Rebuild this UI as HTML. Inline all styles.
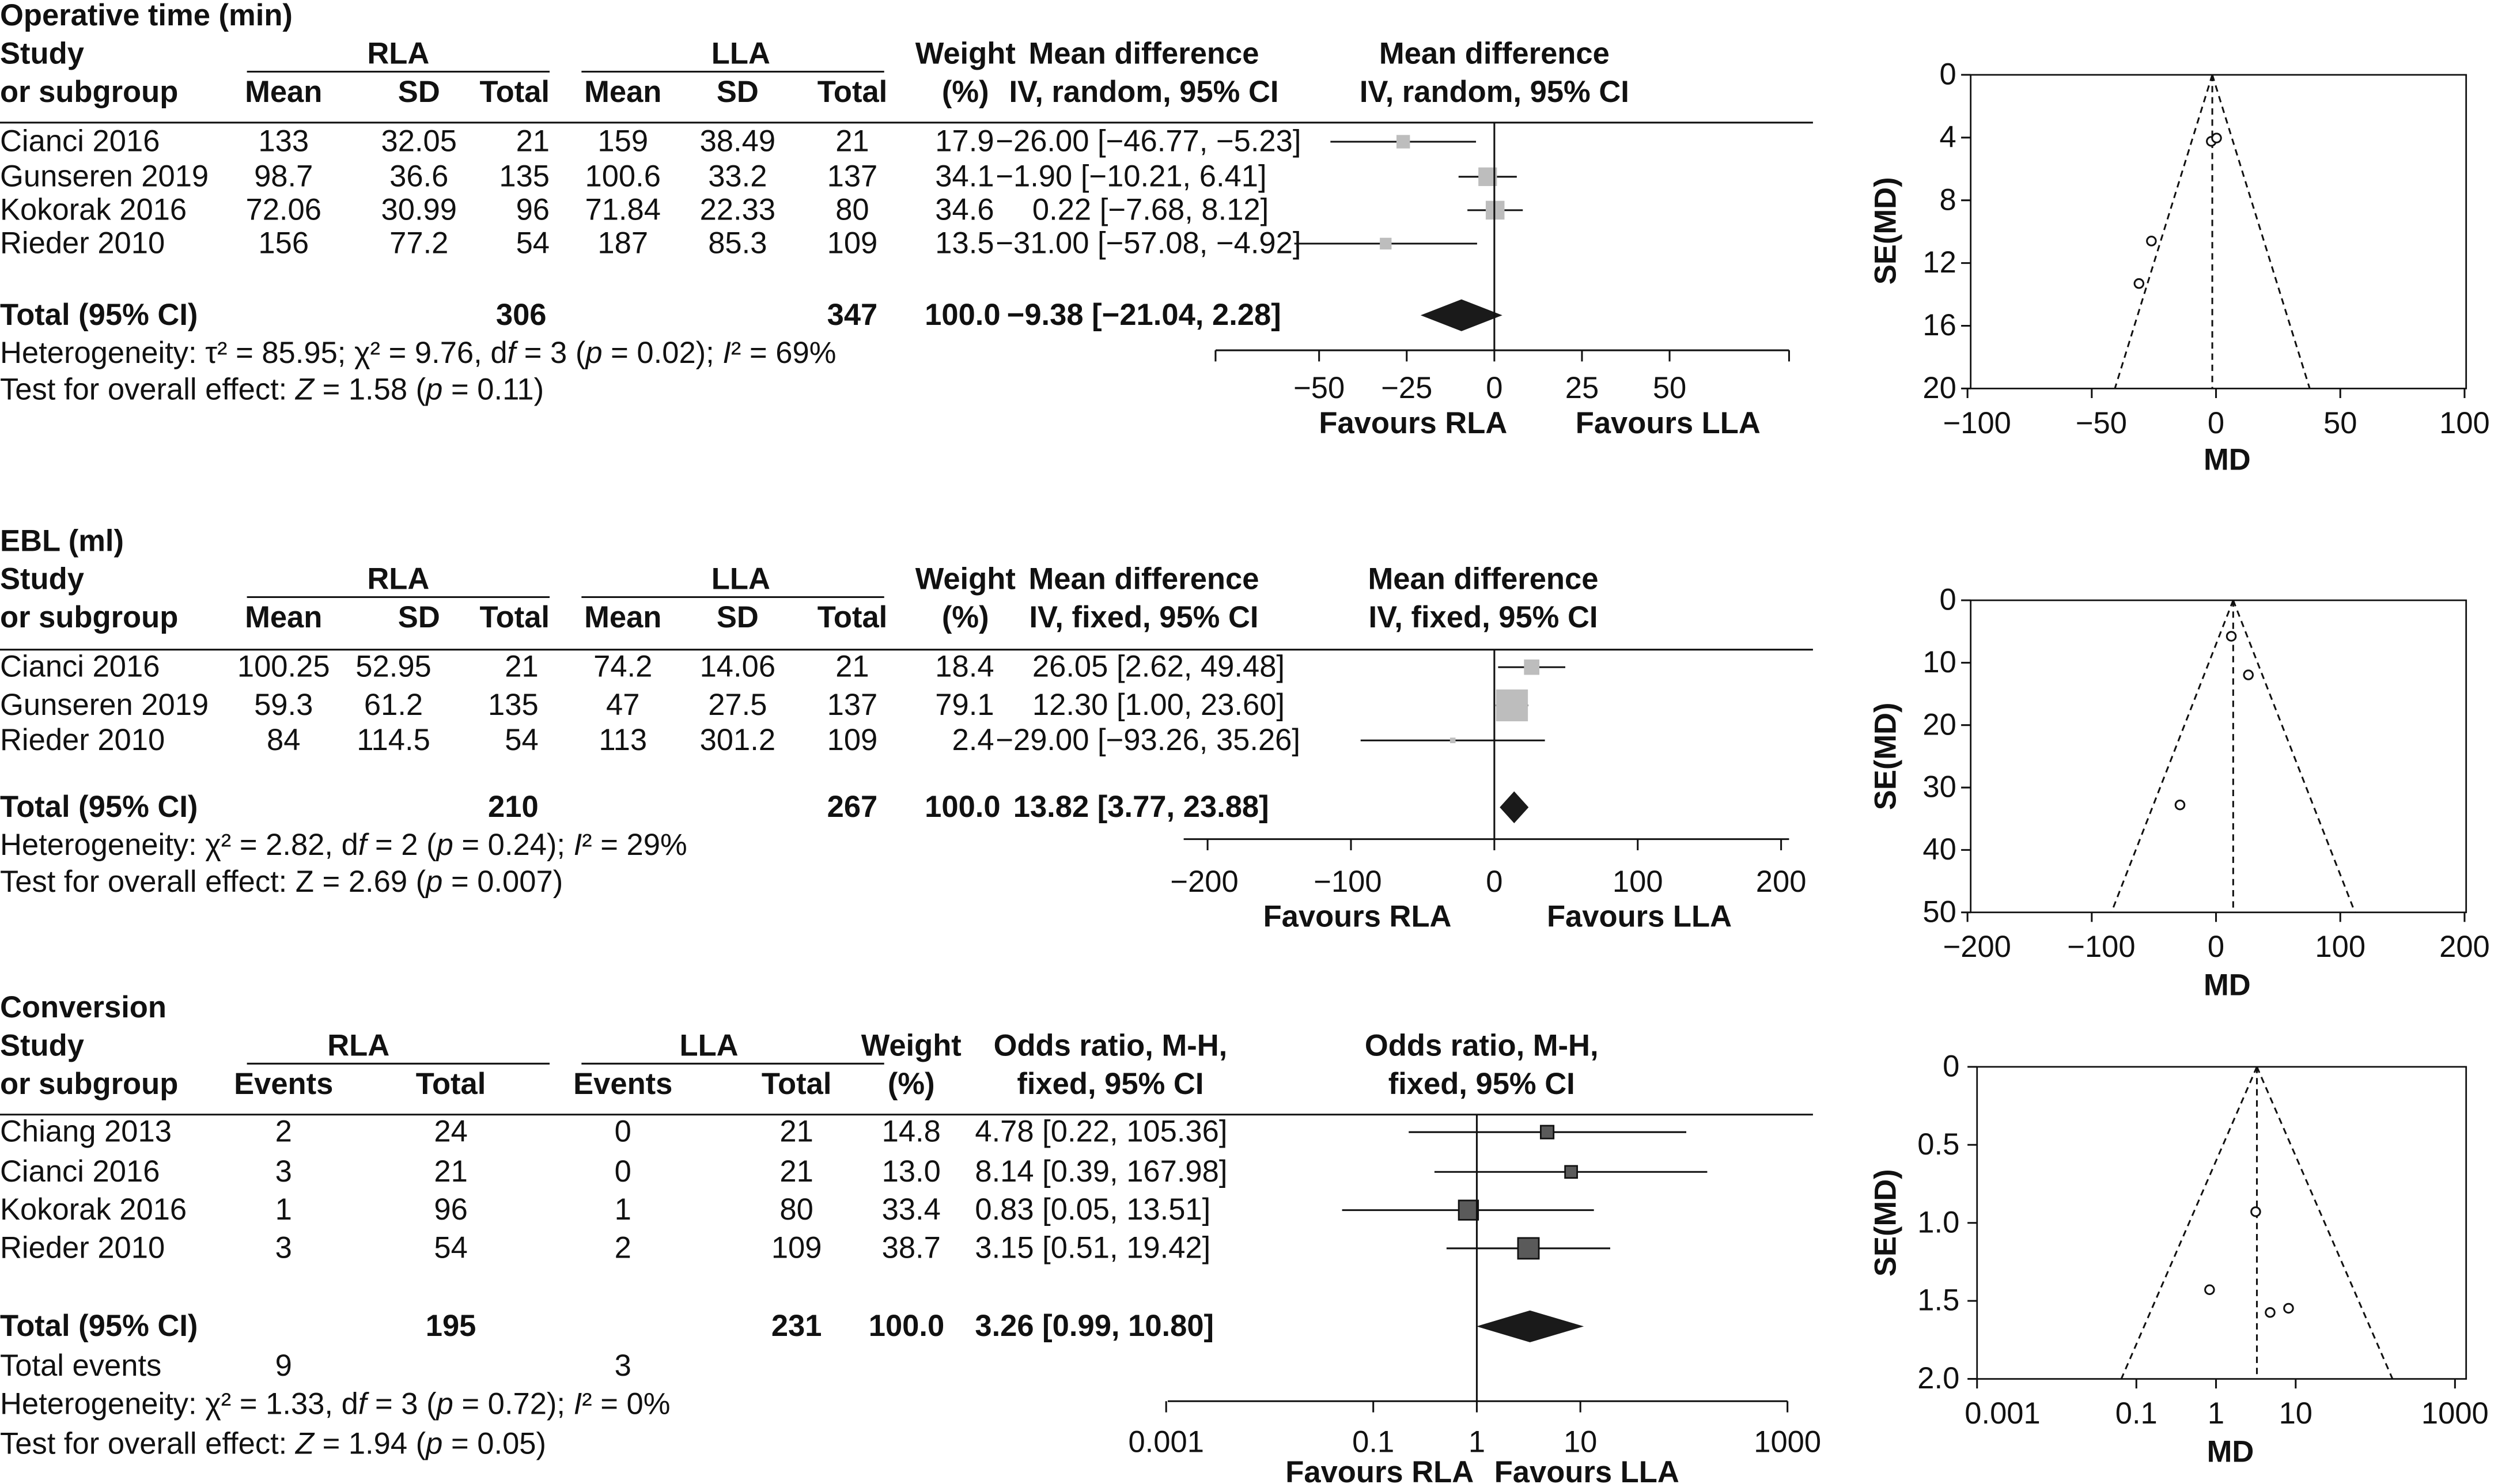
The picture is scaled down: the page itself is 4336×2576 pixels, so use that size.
<!DOCTYPE html>
<html><head><meta charset="utf-8"><style>
html,body{margin:0;padding:0;background:#fff;}
svg{display:block;}
text{font-family:"Liberation Sans",sans-serif;font-size:19px;fill:#111;}
.b{font-weight:bold;}
</style></head><body>
<svg id="chart" xmlns="http://www.w3.org/2000/svg" width="4336" height="2576" viewBox="0 0 1568 932" preserveAspectRatio="none"></svg>
<script>
// ---------- Data: Operative time ----------
const studies1 = ["Cianci 2016","Gunseren 2019","Kokorak 2016","Rieder 2010"];
const rlaMean1 = ["133","98.7","72.06","156"];
const rlaSD1 = ["32.05","36.6","30.99","77.2"];
const rlaN1 = ["21","135","96","54"];
const llaMean1 = ["159","100.6","71.84","187"];
const llaSD1 = ["38.49","33.2","22.33","85.3"];
const llaN1 = ["21","137","80","109"];
const weight1 = [17.9,34.1,34.6,13.5];
const md1 = [-26.00,-1.90,0.22,-31.00];
const lo1 = [-46.77,-10.21,-7.68,-57.08];
const hi1 = [-5.23,6.41,8.12,-4.92];
const pooled1 = [-9.38,-21.04,2.28];
const funnelCenter1 = -1.5;
const xTicks1 = [-50,-25,0,25,50];
const fxTicks1 = [-100,-50,0,50,100];
const fyTicks1 = [0,4,8,12,16,20];
// ---------- Data: EBL ----------
const studies2 = ["Cianci 2016","Gunseren 2019","Rieder 2010"];
const rlaMean2 = ["100.25","59.3","84"];
const rlaSD2 = ["52.95","61.2","114.5"];
const rlaN2 = ["21","135","54"];
const llaMean2 = ["74.2","47","113"];
const llaSD2 = ["14.06","27.5","301.2"];
const llaN2 = ["21","137","109"];
const weight2 = [18.4,79.1,2.4];
const md2 = [26.05,12.30,-29.00];
const lo2 = [2.62,1.00,-93.26];
const hi2 = [49.48,23.60,35.26];
const pooled2 = [13.82,3.77,23.88];
const xTicks2 = [-200,-100,0,100,200];
const fxTicks2 = [-200,-100,0,100,200];
const fyTicks2 = [0,10,20,30,40,50];
// ---------- Data: Conversion ----------
const studies3 = ["Chiang 2013","Cianci 2016","Kokorak 2016","Rieder 2010"];
const rlaEv3 = ["2","3","1","3"];
const rlaN3 = ["24","21","96","54"];
const llaEv3 = ["0","0","1","2"];
const llaN3 = ["21","21","80","109"];
const weight3 = [14.8,13.0,33.4,38.7];
const or3 = [4.78,8.14,0.83,3.15];
const lo3 = [0.22,0.39,0.05,0.51];
const hi3 = [105.36,167.98,13.51,19.42];
const pooled3 = [3.26,0.99,10.80];
const xTicks3 = [0.001,0.1,1,10,1000];
const xTickLabels3 = ["0.001","0.1","1","10","1000"];
const fyTicks3 = [0,0.5,1.0,1.5,2.0];
const fyTickLabels3 = ["0","0.5","1.0","1.5","2.0"];

const NS="http://www.w3.org/2000/svg";
const svg=document.getElementById('chart');
function el(tag,name,parent){
  const e=document.createElementNS(NS,tag);
  
  
  (parent||svg).appendChild(e);
  return e;
}
function txt(x,y,s,anchor,bold,name){
  const e=el('text',name);
  e.setAttribute('x',x);e.setAttribute('y',y);
  e.setAttribute('text-anchor',anchor||'start');
  if(bold)e.setAttribute('class','b');
  e.innerHTML=s;
  return e;
}
function line(x1,y1,x2,y2,name,dash,w){
  const e=el('line',name);
  e.setAttribute('x1',x1);e.setAttribute('y1',y1);e.setAttribute('x2',x2);e.setAttribute('y2',y2);
  e.setAttribute('stroke','#111');e.setAttribute('stroke-width',w||1.1);
  if(dash)e.setAttribute('stroke-dasharray',dash);
  return e;
}
function rect(x,y,w,h,fill,name,stroke){
  const e=el('rect',name);
  e.setAttribute('x',x);e.setAttribute('y',y);e.setAttribute('width',w);e.setAttribute('height',h);
  e.setAttribute('fill',fill);
  if(stroke){e.setAttribute('stroke',stroke);e.setAttribute('stroke-width',1);}
  return e;
}
function diamond(xl,xc,xr,y,name){
  const e=el('polygon',name);
  e.setAttribute('points',`${xl},${y} ${xc},${y-10} ${xr},${y} ${xc},${y+10}`);
  e.setAttribute('fill','#1a1a1a');
  return e;
}
function circ(x,y,name){
  const e=el('circle',name);
  e.setAttribute('cx',x);e.setAttribute('cy',y);e.setAttribute('r',2.8);
  e.setAttribute('fill','#fff');e.setAttribute('stroke','#111');e.setAttribute('stroke-width',1.1);
  return e;
}
const fmt=v=>(v<0?'−':'')+Math.abs(v).toFixed(2);
const ciText=(m,l,h)=>`${fmt(m)} [${fmt(l)}, ${fmt(h)}]`;
const ciX=(m)=>m<0?625:648;

// ===== Section 1 =====
txt(0,16,'Operative time (min)','start',true,'section-title-operative-time');
txt(0,40,'Study','start',true,'header-study');
txt(0,64,'or subgroup','start',true,'header-subgroup');
txt(250,40,'RLA','middle',true,'header-rla');line(155,45,345,45,'rla-underline');
txt(465,40,'LLA','middle',true,'header-lla');line(365,45,555,45,'lla-underline');
txt(178,64,'Mean','middle',true,'header-rla-mean');txt(263,64,'SD','middle',true,'header-rla-sd');txt(345,64,'Total','end',true,'header-rla-total');
txt(391,64,'Mean','middle',true,'header-lla-mean');txt(463,64,'SD','middle',true,'header-lla-sd');txt(557,64,'Total','end',true,'header-lla-total');
txt(606,40,'Weight','middle',true,'header-weight');txt(606,64,'(%)','middle',true,'header-weight-pct');
txt(718,40,'Mean difference','middle',true,'header-md');txt(718,64,'IV, random, 95% CI','middle',true,'header-md-method');
txt(938,40,'Mean difference','middle',true,'header-plot-md');txt(938,64,'IV, random, 95% CI','middle',true,'header-plot-method');
line(0,77,1138,77,'header-rule-1');
const fx1=v=>938+v*2.2;
const rows1=[95,117,138,159];
studies1.forEach((s,i)=>{
  const y=rows1[i];
  txt(0,y,s,'start',false,'study-name');
  txt(178,y,rlaMean1[i],'middle',false,'rla-mean');
  txt(263,y,rlaSD1[i],'middle',false,'rla-sd');
  txt(345,y,rlaN1[i],'end',false,'rla-total');
  txt(391,y,llaMean1[i],'middle',false,'lla-mean');
  txt(463,y,llaSD1[i],'middle',false,'lla-sd');
  txt(535,y,llaN1[i],'middle',false,'lla-total');
  txt(624,y,weight1[i].toFixed(1),'end',false,'weight');
  txt(ciX(md1[i]),y,ciText(md1[i],lo1[i],hi1[i]),'start',false,'ci-text');
  const cy=y-6;
  line(fx1(lo1[i]),cy,fx1(hi1[i]),cy,'ci-line');
  const sz=2*Math.sqrt(weight1[i]);
  rect(fx1(md1[i])-sz/2,cy-sz/2,sz,sz,'#bdbdbd','study-square');
});
txt(0,204,'Total (95% CI)','start',true,'total-label');
txt(343,204,'306','end',true,'total-rla');txt(535,204,'347','middle',true,'total-lla');
txt(628,204,'100.0','end',true,'total-weight');
txt(632,204,ciText(pooled1[0],pooled1[1],pooled1[2]),'start',true,'total-ci');
diamond(fx1(pooled1[1]),fx1(pooled1[0]),fx1(pooled1[2]),198,'pooled-diamond');
txt(0,228,'Heterogeneity: τ² = 85.95; χ² = 9.76, d<tspan font-style="italic">f</tspan> = 3 (<tspan font-style="italic">p</tspan> = 0.02); <tspan font-style="italic">I</tspan>² = 69%','start',false,'heterogeneity');
txt(0,251,'Test for overall effect: <tspan font-style="italic">Z</tspan> = 1.58 (<tspan font-style="italic">p</tspan> = 0.11)','start',false,'overall-effect');
line(938,77,938,220,'null-line');
line(763,220,1123,220,'x-axis');
line(763,220,763,227,'axis-tick');line(1123,220,1123,227,'axis-tick');
xTicks1.forEach(v=>{line(fx1(v),220,fx1(v),227,'axis-tick');txt(fx1(v),250,fmt(v).replace('.00',''),'middle',false,'tick-label');});
txt(887,272,'Favours RLA','middle',true,'favours-rla');txt(1047,272,'Favours LLA','middle',true,'favours-lla');
// funnel 1
const ux1=v=>1391+v*1.56, uy1=s=>47+s*9.85;
rect(1237,47,311,197,'none','funnel-frame','#111');
fyTicks1.forEach(v=>{line(1231,uy1(v),1237,uy1(v),'y-tick');txt(1228,uy1(v)+6,v,'end',false,'y-tick-label');});
fxTicks1.forEach(v=>{line(ux1(v),244,ux1(v),250,'x-tick');txt(ux1(v)+(v<0?6:0),272,fmt(v).replace('.00',''),'middle',false,'x-tick-label');});
txt(1398,295,'MD','middle',true,'x-axis-title');
const t1=txt(0,0,'SE(MD)','middle',true,'y-axis-title');t1.setAttribute('transform','translate(1190,145) rotate(-90)');
line(ux1(funnelCenter1),uy1(0),ux1(funnelCenter1),uy1(20),'funnel-center','4,3');
line(ux1(funnelCenter1),uy1(0),ux1(funnelCenter1-1.96*20),uy1(20),'funnel-left','4,3');
line(ux1(funnelCenter1),uy1(0),ux1(funnelCenter1+1.96*20),uy1(20),'funnel-right','4,3');
md1.forEach((m,i)=>{const se=(hi1[i]-lo1[i])/3.92;circ(ux1(m),uy1(se),'funnel-point');});

// ===== Section 2 =====
txt(0,346,'EBL (ml)','start',true,'section-title-ebl');
txt(0,370,'Study','start',true,'header-study');
txt(0,394,'or subgroup','start',true,'header-subgroup');
txt(250,370,'RLA','middle',true,'header-rla');line(155,375,345,375,'rla-underline');
txt(465,370,'LLA','middle',true,'header-lla');line(365,375,555,375,'lla-underline');
txt(178,394,'Mean','middle',true,'header-rla-mean');txt(263,394,'SD','middle',true,'header-rla-sd');txt(345,394,'Total','end',true,'header-rla-total');
txt(391,394,'Mean','middle',true,'header-lla-mean');txt(463,394,'SD','middle',true,'header-lla-sd');txt(557,394,'Total','end',true,'header-lla-total');
txt(606,370,'Weight','middle',true,'header-weight');txt(606,394,'(%)','middle',true,'header-weight-pct');
txt(718,370,'Mean difference','middle',true,'header-md');txt(718,394,'IV, fixed, 95% CI','middle',true,'header-md-method');
txt(931,370,'Mean difference','middle',true,'header-plot-md');txt(931,394,'IV, fixed, 95% CI','middle',true,'header-plot-method');
line(0,408,1138,408,'header-rule-2');
const fx2=v=>938+v*0.9;
const rows2=[425,449,471];
studies2.forEach((s,i)=>{
  const y=rows2[i];
  txt(0,y,s,'start',false,'study-name');
  txt(178,y,rlaMean2[i],'middle',false,'rla-mean');
  txt(247,y,rlaSD2[i],'middle',false,'rla-sd');
  txt(338,y,rlaN2[i],'end',false,'rla-total');
  txt(391,y,llaMean2[i],'middle',false,'lla-mean');
  txt(463,y,llaSD2[i],'middle',false,'lla-sd');
  txt(535,y,llaN2[i],'middle',false,'lla-total');
  txt(624,y,weight2[i].toFixed(1),'end',false,'weight');
  txt(ciX(md2[i]),y,ciText(md2[i],lo2[i],hi2[i]),'start',false,'ci-text');
  const cy=y-6;
  line(fx2(lo2[i]),cy,fx2(hi2[i]),cy,'ci-line');
  const sz=2.25*Math.sqrt(weight2[i]);
  rect(fx2(md2[i])-sz/2,cy-sz/2,sz,sz,'#bdbdbd','study-square');
});
txt(0,513,'Total (95% CI)','start',true,'total-label');
txt(338,513,'210','end',true,'total-rla');txt(535,513,'267','middle',true,'total-lla');
txt(628,513,'100.0','end',true,'total-weight');
txt(636,513,ciText(pooled2[0],pooled2[1],pooled2[2]),'start',true,'total-ci');
diamond(fx2(pooled2[1]),fx2(pooled2[0]),fx2(pooled2[2]),507,'pooled-diamond');
txt(0,537,'Heterogeneity: χ² = 2.82, d<tspan font-style="italic">f</tspan> = 2 (<tspan font-style="italic">p</tspan> = 0.24); <tspan font-style="italic">I</tspan>² = 29%','start',false,'heterogeneity');
txt(0,560,'Test for overall effect: Z = 2.69 (<tspan font-style="italic">p</tspan> = 0.007)','start',false,'overall-effect');
line(938,408,938,527,'null-line');
line(743,527,1123,527,'x-axis');
xTicks2.forEach(v=>{line(fx2(v),527,fx2(v),534,'axis-tick');txt(fx2(v)+(v<0?-2:0),560,v<0?'−'+Math.abs(v):String(v),'middle',false,'tick-label');});
txt(852,582,'Favours RLA','middle',true,'favours-rla');txt(1029,582,'Favours LLA','middle',true,'favours-lla');
// funnel 2
const ux2=v=>1391+v*0.78, uy2=s=>377+s*3.92;
rect(1237,377,311,196,'none','funnel-frame','#111');
fyTicks2.forEach(v=>{line(1231,uy2(v),1237,uy2(v),'y-tick');txt(1228,uy2(v)+6,v,'end',false,'y-tick-label');});
fxTicks2.forEach(v=>{line(ux2(v),573,ux2(v),579,'x-tick');txt(ux2(v)+(v<0?6:0),601,v<0?'−'+Math.abs(v):String(v),'middle',false,'x-tick-label');});
txt(1398,625,'MD','middle',true,'x-axis-title');
const t2=txt(0,0,'SE(MD)','middle',true,'y-axis-title');t2.setAttribute('transform','translate(1190,475) rotate(-90)');
line(ux2(pooled2[0]),uy2(0),ux2(pooled2[0]),uy2(50),'funnel-center','4,3');
line(ux2(pooled2[0]),uy2(0),ux2(pooled2[0]-1.96*50),uy2(50),'funnel-left','4,3');
line(ux2(pooled2[0]),uy2(0),ux2(pooled2[0]+1.96*50),uy2(50),'funnel-right','4,3');
md2.forEach((m,i)=>{const se=(hi2[i]-lo2[i])/3.92;circ(ux2(m),uy2(se),'funnel-point');});

// ===== Section 3 =====
txt(0,639,'Conversion','start',true,'section-title-conversion');
txt(0,663,'Study','start',true,'header-study');
txt(0,687,'or subgroup','start',true,'header-subgroup');
txt(225,663,'RLA','middle',true,'header-rla');line(155,668,345,668,'rla-underline');
txt(445,663,'LLA','middle',true,'header-lla');line(365,668,555,668,'lla-underline');
txt(178,687,'Events','middle',true,'header-rla-events');txt(283,687,'Total','middle',true,'header-rla-total');
txt(391,687,'Events','middle',true,'header-lla-events');txt(500,687,'Total','middle',true,'header-lla-total');
txt(572,663,'Weight','middle',true,'header-weight');txt(572,687,'(%)','middle',true,'header-weight-pct');
txt(697,663,'Odds ratio, M-H,','middle',true,'header-or');txt(697,687,'fixed, 95% CI','middle',true,'header-or-method');
txt(930,663,'Odds ratio, M-H,','middle',true,'header-plot-or');txt(930,687,'fixed, 95% CI','middle',true,'header-plot-method');
line(0,700,1138,700,'header-rule-3');
const fx3=v=>927+65*Math.log10(v);
const rows3=[717,742,766,790];
studies3.forEach((s,i)=>{
  const y=rows3[i];
  txt(0,y,s,'start',false,'study-name');
  txt(178,y,rlaEv3[i],'middle',false,'rla-events');
  txt(283,y,rlaN3[i],'middle',false,'rla-total');
  txt(391,y,llaEv3[i],'middle',false,'lla-events');
  txt(500,y,llaN3[i],'middle',false,'lla-total');
  txt(572,y,weight3[i].toFixed(1),'middle',false,'weight');
  txt(612,y,ciText(or3[i],lo3[i],hi3[i]),'start',false,'ci-text');
  const cy=y-6;
  line(fx3(lo3[i]),cy,fx3(hi3[i]),cy,'ci-line');
  const sz=2.1*Math.sqrt(weight3[i]);
  rect(fx3(or3[i])-sz/2,cy-sz/2,sz,sz,'#5a5a5a','study-square','#111');
});
txt(0,839,'Total (95% CI)','start',true,'total-label');
txt(283,839,'195','middle',true,'total-rla');txt(500,839,'231','middle',true,'total-lla');
txt(569,839,'100.0','middle',true,'total-weight');
txt(612,839,ciText(pooled3[0],pooled3[1],pooled3[2]),'start',true,'total-ci');
diamond(fx3(pooled3[1]),fx3(pooled3[0]),fx3(pooled3[2]),833,'pooled-diamond');
txt(0,864,'Total events','start',false,'total-events-label');
txt(178,864,'9','middle',false,'total-events-rla');txt(391,864,'3','middle',false,'total-events-lla');
txt(0,888,'Heterogeneity: χ² = 1.33, d<tspan font-style="italic">f</tspan> = 3 (<tspan font-style="italic">p</tspan> = 0.72); <tspan font-style="italic">I</tspan>² = 0%','start',false,'heterogeneity');
txt(0,913,'Test for overall effect: <tspan font-style="italic">Z</tspan> = 1.94 (<tspan font-style="italic">p</tspan> = 0.05)','start',false,'overall-effect');
line(927,700,927,880,'null-line');
line(733,880,1122,880,'x-axis');
xTicks3.forEach((v,i)=>{line(fx3(v),880,fx3(v),887,'axis-tick');txt(fx3(v),912,xTickLabels3[i],'middle',false,'tick-label');});
txt(866,931,'Favours RLA','middle',true,'favours-rla');txt(996,931,'Favours LLA','middle',true,'favours-lla');
// funnel 3
const ux3=v=>1241+50*(Math.log10(v)+3), uy3=s=>670+s*98;
rect(1241,670,307,196,'none','funnel-frame','#111');
fyTicks3.forEach((v,i)=>{line(1235,uy3(v),1241,uy3(v),'y-tick');txt(1230,uy3(v)+6,fyTickLabels3[i],'end',false,'y-tick-label');});
xTicks3.forEach((v,i)=>{line(ux3(v),866,ux3(v),872,'x-tick');txt(ux3(v)+(i==0?16:0),894,xTickLabels3[i],'middle',false,'x-tick-label');});
txt(1400,918,'MD','middle',true,'x-axis-title');
const t3=txt(0,0,'SE(MD)','middle',true,'y-axis-title');t3.setAttribute('transform','translate(1190,768) rotate(-90)');
const lc=Math.log(pooled3[0]);
const toX=l=>ux3(Math.exp(l));
line(toX(lc),uy3(0),toX(lc),uy3(2),'funnel-center','4,3');
line(toX(lc),uy3(0),toX(lc-1.96*2),uy3(2),'funnel-left','4,3');
line(toX(lc),uy3(0),toX(lc+1.96*2),uy3(2),'funnel-right','4,3');
or3.forEach((m,i)=>{const se=(Math.log(hi3[i])-Math.log(lo3[i]))/3.92;circ(ux3(m),uy3(se),'funnel-point');});
</script>
</body></html>
